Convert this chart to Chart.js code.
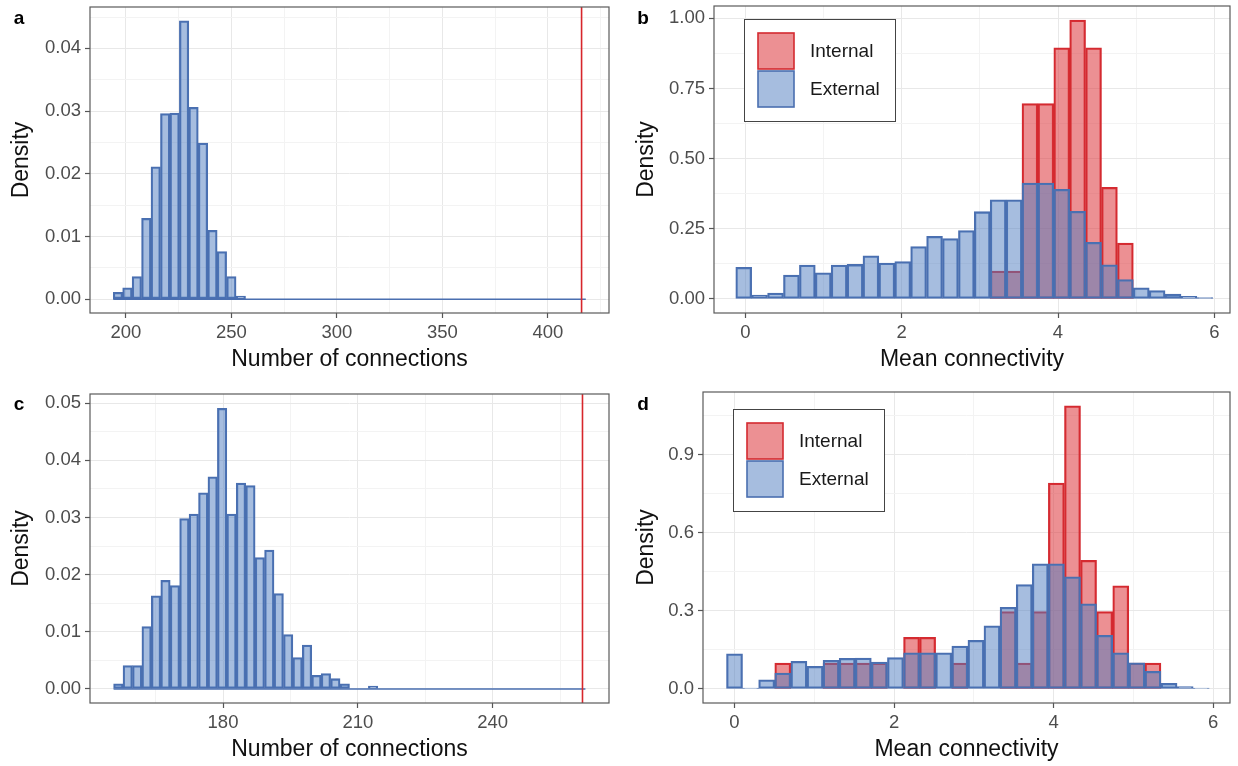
<!DOCTYPE html>
<html>
<head>
<meta charset="utf-8">
<title>Connections and mean connectivity</title>
<script src="https://cdn.jsdelivr.net/npm/chart.js@4.4.1/dist/chart.umd.min.js"></script>
<style>
  html, body { margin: 0; padding: 0; background: #fff; }
  #wrap { position: relative; width: 1238px; height: 766px; overflow: hidden; }
  canvas { position: absolute; }
</style>
</head>
<body>
<div id="wrap">
  <canvas id="panelA" width="625" height="383" style="left:0;top:0"></canvas>
  <canvas id="panelB" width="613" height="383" style="left:625px;top:0"></canvas>
  <canvas id="panelC" width="625" height="383" style="left:0;top:383px"></canvas>
  <canvas id="panelD" width="613" height="383" style="left:625px;top:383px"></canvas>
</div>
<script>
// ---- DATA ----
// a: number of connections, null distribution + observed value
let binsA = [196.24, 200.72, 205.20, 209.68, 214.16, 218.64, 223.12, 227.60, 232.08, 236.56, 241.04, 245.52, 250.00, 254.48];
let densA = [0.0011, 0.0018, 0.0036, 0.0129, 0.0211, 0.0296, 0.0297, 0.0444, 0.0306, 0.0249, 0.0110, 0.0076, 0.0036, 0.0005];
let edgesA = [194, 418];      // first / last bin edge (empty bins drawn as a flat line)
let observedA = 416;

// c: number of connections, second network
let binsC = [156.70, 158.80, 160.90, 163.00, 165.10, 167.20, 169.30, 171.40, 173.50, 175.60, 177.70, 179.80, 181.90, 184.00,
             186.10, 188.20, 190.30, 192.40, 194.50, 196.60, 198.70, 200.80, 202.90, 205.00, 207.10, 209.20, 211.30, 213.40];
let densC = [0.0009, 0.0041, 0.0041, 0.0109, 0.0163, 0.0190, 0.0181, 0.0298, 0.0306, 0.0343, 0.0371, 0.0491, 0.0306, 0.0360,
             0.0356, 0.0230, 0.0243, 0.0167, 0.0095, 0.0055, 0.0077, 0.0024, 0.0027, 0.0018, 0.0009, 0, 0, 0.0005];
let edgesC = [155.65, 260.65];
let observedC = 260;

// b: mean connectivity, internal vs external
let binsB = [-0.020, 0.183, 0.387, 0.590, 0.794, 0.997, 1.200, 1.404, 1.607, 1.811, 2.014, 2.217, 2.421, 2.624, 2.828,
             3.031, 3.234, 3.438, 3.641, 3.845, 4.048, 4.251, 4.455, 4.658, 4.862, 5.065, 5.268, 5.472, 5.675, 5.879];
let externalB = [0.113, 0.014, 0.021, 0.085, 0.121, 0.093, 0.121, 0.123, 0.154, 0.128, 0.133, 0.187, 0.223, 0.215, 0.244,
                 0.311, 0.353, 0.353, 0.413, 0.413, 0.391, 0.312, 0.202, 0.122, 0.069, 0.040, 0.030, 0.017, 0.0095, 0.005];
let internalB = [0, 0, 0, 0, 0, 0, 0, 0, 0, 0, 0, 0, 0, 0, 0,
                 0, 0.099, 0.099, 0.696, 0.696, 0.895, 0.994, 0.895, 0.398, 0.199, 0, 0, 0, 0, 0];

// d: mean connectivity, second network
let binsD = [0.000, 0.202, 0.403, 0.605, 0.807, 1.009, 1.210, 1.412, 1.614, 1.815, 2.017, 2.219, 2.420, 2.622, 2.824,
             3.026, 3.227, 3.429, 3.631, 3.832, 4.034, 4.236, 4.437, 4.639, 4.841, 5.043, 5.244, 5.446, 5.648, 5.849];
let externalD = [0.135, 0.003, 0.035, 0.061, 0.106, 0.087, 0.110, 0.118, 0.119, 0.103, 0.121, 0.139, 0.139, 0.139, 0.165,
                 0.187, 0.243, 0.314, 0.401, 0.481, 0.481, 0.431, 0.327, 0.206, 0.139, 0.100, 0.068, 0.022, 0.009, 0.003];
let internalD = [0, 0, 0, 0.099, 0, 0, 0.099, 0.099, 0.099, 0.099, 0, 0.198, 0.198, 0, 0.099,
                 0, 0, 0.297, 0.099, 0.297, 0.791, 1.088, 0.494, 0.297, 0.396, 0.099, 0.099, 0, 0, 0];

let seriesNames = ['Internal', 'External'];

// tick labels
let xTicksA = [200, 250, 300, 350, 400],  xMinorA = [225, 275, 325, 375, 425];
let xTicksC = [180, 210, 240],            xMinorC = [165, 195, 225, 255];
let xTicksBD = [0, 2, 4, 6],              xMinorBD = [1, 3, 5];
let yTicksA = [0, 0.01, 0.02, 0.03, 0.04], yMinorA = [0.005, 0.015, 0.025, 0.035, 0.045];
let yTicksC = [0, 0.01, 0.02, 0.03, 0.04, 0.05], yMinorC = [0.005, 0.015, 0.025, 0.035, 0.045];
let yTicksB = [0, 0.25, 0.5, 0.75, 1], yMinorB = [0.125, 0.375, 0.625, 0.875];
let yTicksD = [0, 0.3, 0.6, 0.9], yMinorD = [0.15, 0.45, 0.75, 1.05];

// ---- STYLE ----
const FONT = '"Liberation Sans", Arial, Helvetica, sans-serif';
const blueFill = 'rgba(77,124,191,0.5)', blueLine = '#4A6FB0';
const redFill = 'rgba(221,52,58,0.55)', redLine = '#D42A30';

function pts(xs, ys) { return xs.map((x, i) => ({x: x, y: ys[i]})); }

function tickList(major, minor) {
  let t = major.map(v => ({value: v, minor: false})).concat(minor.map(v => ({value: v, minor: true})));
  return t.sort((p, q) => p.value - q.value);
}

function barSet(label, xs, ys, fill, line) {
  return {
    type: 'bar', label: label, data: pts(xs, ys),
    backgroundColor: fill, borderColor: line, borderWidth: 1.6, borderSkipped: false,
    barPercentage: 1, categoryPercentage: 1, grouped: false
  };
}

function flatLine(edges) {
  return {
    type: 'line', data: [{x: edges[0], y: 0}, {x: edges[1], y: 0}],
    borderColor: blueLine, borderWidth: 1.6, pointRadius: 0
  };
}

// background, observed value line, panel border, legend, panel letter
const panelDecor = {
  id: 'panelDecor',
  beforeDraw(chart) {
    const c = chart.ctx;
    c.save(); c.fillStyle = '#fff'; c.fillRect(0, 0, chart.width, chart.height); c.restore();
  },
  afterDatasetsDraw(chart, args, o) {
    const c = chart.ctx, a = chart.chartArea;
    c.save();
    if (o.observed != null) {
      const px = chart.scales.x.getPixelForValue(o.observed);
      c.strokeStyle = '#D7262B'; c.lineWidth = 1.6;
      c.beginPath(); c.moveTo(px, a.top); c.lineTo(px, a.bottom); c.stroke();
    }
    c.strokeStyle = '#5a5a5a'; c.lineWidth = 1.2;
    c.strokeRect(a.left, a.top, a.right - a.left, a.bottom - a.top);

    if (o.legend) {
      const lg = o.legend;
      c.fillStyle = '#fff'; c.fillRect(lg.x, lg.y, 151, 102);
      c.strokeStyle = '#444'; c.lineWidth = 1; c.strokeRect(lg.x + 0.5, lg.y + 0.5, 151, 102);
      const keys = [[redFill, redLine], [blueFill, blueLine]];
      seriesNames.forEach((name, i) => {
        const kx = lg.x + 14, ky = lg.y + 14 + i * 38;
        c.fillStyle = '#fff'; c.fillRect(kx, ky, 36, 36);
        c.fillStyle = keys[i][0]; c.fillRect(kx, ky, 36, 36);
        c.strokeStyle = keys[i][1]; c.lineWidth = 1.6; c.strokeRect(kx, ky, 36, 36);
        c.fillStyle = '#1a1a1a'; c.font = '19px ' + FONT;
        c.textAlign = 'left'; c.textBaseline = 'middle';
        c.fillText(name, lg.x + 66, ky + 19);
      });
    }
    c.fillStyle = '#000'; c.font = 'bold 19px ' + FONT;
    c.textAlign = 'center'; c.textBaseline = 'middle';
    c.fillText(o.letter, o.letterX, o.letterY);
    c.restore();
  }
};

function axis(p, dir) {
  const major = p[dir + 'Major'], minor = p[dir + 'Minor'];
  const isX = dir === 'x';
  return {
    type: 'linear', min: p[dir + 'Range'][0], max: p[dir + 'Range'][1],
    offset: false,
    afterBuildTicks: s => { s.ticks = tickList(major, minor); },
    afterFit: s => {
      if (isX) { s.height = p.xHeight; s.paddingLeft = 0; s.paddingRight = 0; }
      else { s.width = p.yWidth; s.paddingTop = 0; s.paddingBottom = 0; }
    },
    border: {display: false},
    grid: {
      offset: false,
      color: ctx => (ctx.tick && ctx.tick.minor) ? '#F3F3F3' : '#E8E8E8',
      lineWidth: 1,
      drawTicks: true, tickLength: 5,
      tickColor: ctx => (ctx.tick && ctx.tick.minor) ? 'rgba(0,0,0,0)' : '#555',
      tickWidth: 1.2
    },
    ticks: {
      autoSkip: false, maxRotation: 0, padding: 4,
      color: '#4D4D4D', font: {family: FONT, size: 18.5},
      callback: (v, i, t) => t[i].minor ? '' : p[dir + 'Fmt'](v)
    },
    title: {
      display: true, text: isX ? p.xTitle : 'Density', color: '#111',
      font: {family: FONT, size: 23},
      padding: isX ? {top: 0, bottom: p.xTitlePad} : {top: 8, bottom: 0}
    }
  };
}

function makePanel(p) {
  return new Chart(document.getElementById(p.id), {
    data: {datasets: p.datasets},
    options: {
      responsive: false, animation: false, events: [],
      layout: {padding: {left: 0, right: p.padRight, top: p.padTop, bottom: 0}},
      plugins: {
        legend: {display: false}, tooltip: {enabled: false},
        panelDecor: p.decor
      },
      scales: {x: axis(p, 'x'), y: axis(p, 'y')}
    },
    plugins: [panelDecor]
  });
}

const fmt2 = v => v.toFixed(2), fmt1 = v => v.toFixed(1), fmt0 = v => String(v);

makePanel({
  id: 'panelA',
  datasets: [flatLine(edgesA), barSet('Null', binsA, densA, blueFill, blueLine)],
  xRange: [183, 429], xMajor: xTicksA, xMinor: xMinorA, xFmt: fmt0,
  yRange: [-0.0022, 0.0466], yMajor: yTicksA, yMinor: yMinorA, yFmt: fmt2,
  xTitle: 'Number of connections', xTitlePad: 10,
  yWidth: 90, xHeight: 70, padRight: 16, padTop: 7,
  decor: {letter: 'a', letterX: 19, letterY: 19, observed: observedA}
});

makePanel({
  id: 'panelB',
  datasets: [barSet(seriesNames[1], binsB, externalB, blueFill, blueLine),
             barSet(seriesNames[0], binsB, internalB, redFill, redLine)],
  xRange: [-0.40, 6.2], xMajor: xTicksBD, xMinor: xMinorBD, xFmt: fmt0,
  yRange: [-0.05, 1.044], yMajor: yTicksB, yMinor: yMinorB, yFmt: fmt2,
  xTitle: 'Mean connectivity', xTitlePad: 10,
  yWidth: 89, xHeight: 70, padRight: 8, padTop: 6,
  decor: {letter: 'b', letterX: 18, letterY: 19, legend: {x: 119, y: 19}}
});

makePanel({
  id: 'panelC',
  datasets: [flatLine(edgesC), barSet('Null', binsC, densC, blueFill, blueLine)],
  xRange: [150.4, 265.9], xMajor: xTicksC, xMinor: xMinorC, xFmt: fmt0,
  yRange: [-0.00245, 0.0516], yMajor: yTicksC, yMinor: yMinorC, yFmt: fmt2,
  xTitle: 'Number of connections', xTitlePad: 3,
  yWidth: 90, xHeight: 63, padRight: 16, padTop: 11,
  decor: {letter: 'c', letterX: 19, letterY: 22, observed: observedC}
});

makePanel({
  id: 'panelD',
  datasets: [barSet(seriesNames[1], binsD, externalD, blueFill, blueLine),
             barSet(seriesNames[0], binsD, internalD, redFill, redLine)],
  xRange: [-0.395, 6.21], xMajor: xTicksBD, xMinor: xMinorBD, xFmt: fmt0,
  yRange: [-0.054, 1.141], yMajor: yTicksD, yMinor: yMinorD, yFmt: fmt1,
  xTitle: 'Mean connectivity', xTitlePad: 3,
  yWidth: 78, xHeight: 63, padRight: 8, padTop: 9,
  decor: {letter: 'd', letterX: 18, letterY: 22, legend: {x: 108, y: 26}}
});
</script>
</body>
</html>
